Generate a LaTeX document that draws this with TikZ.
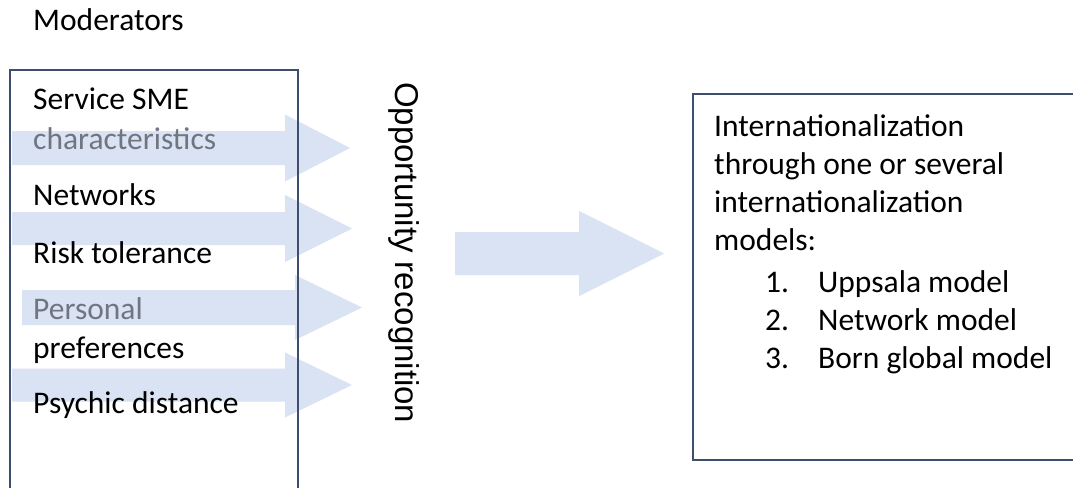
\documentclass[tikz,border=0pt]{standalone}
\usepackage{fontspec}
\setmainfont{Carlito}
\newfontfamily\arialfont{Liberation Sans}
\definecolor{arrowblue}{RGB}{218,227,243}
\definecolor{framecol}{RGB}{62,78,110}
\definecolor{dimtext}{RGB}{112,117,128}

% block arrow: start x, head base x, tip x, centre y, half shaft, half head
\newcommand{\blkarrow}[6]{%
  \fill[blockarrow] (#1,#4-#5) -- (#2,#4-#5) -- (#2,#4-#6) -- (#3,#4)
    -- (#2,#4+#6) -- (#2,#4+#5) -- (#1,#4+#5) -- cycle;}

\begin{document}
\begin{tikzpicture}[x=1pt,y=-1pt,
  lbl/.style={anchor=base west, inner sep=0pt, font=\fontsize{31.5}{38}\selectfont},
  dim/.style={lbl, text=dimtext},
  blockarrow/.style={fill=arrowblue},
  frame/.style={draw=framecol, line width=1.4pt}]
\useasboundingbox (0,0) rectangle (1073,487);
\fill[white] (0,0) rectangle (1073,487);

% arrows from the moderators towards opportunity recognition
\blkarrow{12}{285}{350}{148}{17}{33.5}
\blkarrow{12}{285}{352}{228.5}{16.5}{33.5}
\blkarrow{22}{295}{362}{307.5}{17.5}{32.5}
\blkarrow{12}{285}{352}{385}{16.5}{32.5}
% main arrow towards internationalization
\blkarrow{455}{579}{664}{253.5}{21.5}{42.5}

% frames
\draw[frame] (10,70) rectangle (298,500);
\draw[frame] (693,94) rectangle (1085,460);

% moderators
\node[lbl] (title) at (33,31) {Moderators};
\node[lbl] (sme)   at (33,109) {Service SME};
\node[dim] (char)  at (33,149) {characteristics};
\node[lbl] (net)   at (33,205) {Networks};
\node[lbl] (risk)  at (33,263) {Risk tolerance};
\node[dim] (pers)  at (33,319) {Personal};
\node[lbl] (pref)  at (33,358) {preferences};
\node[lbl] (psy)   at (33,413) {Psychic distance};

% opportunity recognition
\node[anchor=base west, inner sep=0pt, rotate=-90,
      font=\arialfont\fontsize{33}{38}\selectfont] (opp) at (395,82) {Opportunity recognition};

% internationalization models
\node[lbl] (i1) at (714,136) {Internationalization};
\node[lbl] (i2) at (714,174) {through one or several};
\node[lbl] (i3) at (714,212) {internationalization};
\node[lbl] (i4) at (714,250) {models:};
\node[lbl] (n1) at (765,292) {1.};
\node[lbl] (m1) at (818,292) {Uppsala model};
\node[lbl] (n2) at (765,330) {2.};
\node[lbl] (m2) at (818,330) {Network model};
\node[lbl] (n3) at (765,368) {3.};
\node[lbl] (m3) at (818,368) {Born global model};
\end{tikzpicture}
\end{document}
